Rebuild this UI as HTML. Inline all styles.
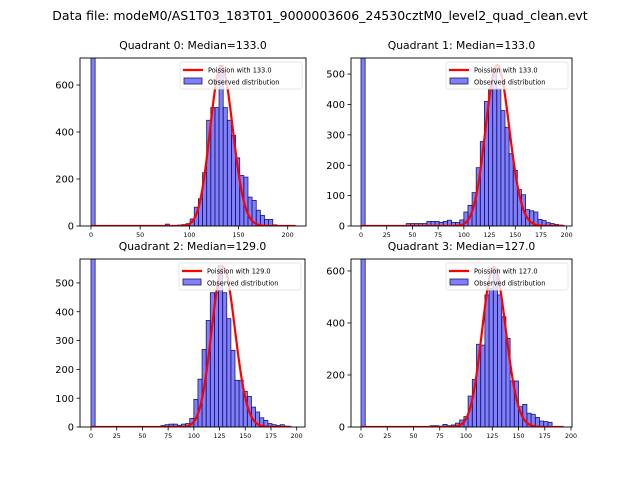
<!DOCTYPE html>
<html><head><meta charset="utf-8"><style>
html,body{margin:0;padding:0;background:#fff;}
svg{display:block;font-family:"DejaVu Sans","Liberation Sans",sans-serif;}
</style></head><body>
<svg id="fig" width="640" height="480" viewBox="0 0 640 480">
<rect width="640" height="480" fill="#fff"/>
<text x="320" y="20" font-size="12.5" text-anchor="middle">Data file: modeM0/AS1T03_183T01_9000003606_24530cztM0_level2_quad_clean.evt</text>
</svg>
<script>
// ---- data ----
const q0Bins = [0, 75.6, 88.2, 92.4, 96.6, 100.8, 105, 109.2, 113.4, 117.6, 121.8, 126, 130.2, 134.4, 138.6, 142.8, 147, 151.2, 155.4, 159.6, 163.8, 168, 172.2, 176.4, 180.6, 184.8];
const q0Counts = [2000, 8, 4, 6, 10, 30, 80, 116, 227, 450, 504, 504, 684, 504, 450, 386, 290, 215, 208, 123, 109, 67, 45, 28, 28, 5];
const q1Bins = [0, 44, 48, 52, 56, 60, 64, 68, 72, 76, 80, 84, 88, 92, 96, 100, 104, 108, 112, 116, 120, 124, 128, 132, 136, 140, 144, 148, 152, 156, 160, 164, 168, 172, 176, 180, 184, 188, 192];
const q1Counts = [2000, 8, 8, 8, 8, 8, 15, 15, 15, 12, 15, 19, 12, 12, 20, 46, 68, 110, 192, 278, 410, 452, 520, 452, 380, 325, 238, 183, 120, 103, 54, 50, 46, 22, 18, 11, 8, 5, 3];
const q2Bins = [0, 68, 72, 76, 80, 84, 88, 92, 96, 100, 104, 108, 112, 116, 120, 124, 128, 132, 136, 140, 144, 148, 152, 156, 160, 164, 168, 172, 176, 180, 184, 188];
const q2Counts = [2000, 5, 8, 10, 10, 6, 10, 12, 30, 96, 166, 269, 370, 466, 466, 560, 466, 376, 266, 162, 162, 124, 106, 69, 52, 32, 23, 12, 8, 5, 8, 3];
const q3Bins = [0, 66, 70, 74, 78, 82, 86, 90, 94, 98, 102, 106, 110, 114, 118, 122, 126, 130, 134, 138, 142, 146, 150, 154, 158, 162, 166, 170, 174, 178];
const q3Counts = [2000, 5, 5, 3, 10, 5, 8, 15, 27, 40, 119, 183, 318, 315, 508, 533, 610, 508, 424, 341, 177, 177, 78, 87, 53, 49, 37, 23, 21, 18];
const medians = [133.0, 133.0, 129.0, 127.0];
const peakHeights = [680, 530, 555, 615];
const curveEnds = [208, 198, 195, 193];
const binWidths = [4.2, 4, 4, 4];
const xTicks0 = [0, 50, 100, 150, 200];
const xTicks1 = [0, 25, 50, 75, 100, 125, 150, 175, 200];
const yTicks0 = [0, 200, 400, 600];
const yTicks1 = [0, 100, 200, 300, 400, 500];
const yTicks3 = [0, 200, 400, 600];

// ---- layout ----
const NS = "http://www.w3.org/2000/svg";
const svg = document.getElementById('fig');
function mk(tag, attrs, parent) {
  const e = document.createElementNS(NS, tag);
  for (const k in attrs) e.setAttribute(k, attrs[k]);
  (parent || svg).appendChild(e);
  return e;
}
const panels = [
  {L:80, R:306, T:58, B:226, x0:91, x200:287.7, ymax:715, bins:q0Bins, counts:q0Counts, xt:xTicks0, yt:yTicks0},
  {L:351, R:572, T:58, B:226, x0:361, x200:566.7, ymax:553, bins:q1Bins, counts:q1Counts, xt:xTicks1, yt:yTicks1},
  {L:80, R:305, T:259, B:427, x0:91, x200:296.7, ymax:583, bins:q2Bins, counts:q2Counts, xt:xTicks1, yt:yTicks1},
  {L:351, R:572, T:259, B:427, x0:361, x200:571, ymax:646, bins:q3Bins, counts:q3Counts, xt:xTicks1, yt:yTicks3}
];
function logFact(k){ let s=0; for(let i=2;i<=k;i++) s+=Math.log(i); return s; }

panels.forEach((p, qi) => {
  const g = mk('g', {});
  
  
  const xs = v => p.x0 + (v) * (p.x200 - p.x0) / 200;
  const ys = v => p.B - v * (p.B - p.T) / p.ymax;
  const cid = 'clip' + qi;
  const cp = mk('clipPath', {id: cid}, g);
  mk('rect', {x: p.L, y: p.T, width: p.R - p.L, height: p.B - p.T}, cp);
  const plot = mk('g', {'clip-path': 'url(#' + cid + ')'}, g);
  p.bins.forEach((b, i) => {
    const x1 = xs(b), x2 = xs(b + binWidths[qi]);
    const y = ys(p.counts[i]);
    const r = mk('rect', {x: x1, y: y, width: x2 - x1, height: p.B - y, fill: 'rgba(0,0,255,0.5)', stroke: '#1a1a60', 'stroke-width': 0.8}, plot);
    
    
  });
  const mu = medians[qi];
  const pk = Math.floor(mu);
  const lpk = -mu + pk * Math.log(mu) - logFact(pk);
  let d = '';
  for (let k = 0; k <= curveEnds[qi]; k++) {
    const lv = -mu + k * Math.log(mu) - logFact(k);
    const v = peakHeights[qi] * Math.exp(lv - lpk);
    d += (k ? 'L' : 'M') + xs(k).toFixed(2) + ' ' + ys(v).toFixed(2);
  }
  const line = mk('path', {d: d, fill: 'none', stroke: '#ff0000', 'stroke-width': 2.2}, plot);
  
  
  const fr = mk('rect', {x: p.L, y: p.T, width: p.R - p.L, height: p.B - p.T, fill: 'none', stroke: '#000', 'stroke-width': 0.9}, g);
  
  
  p.xt.forEach(t => {
    const x = xs(t);
    mk('line', {x1: x, x2: x, y1: p.B, y2: p.B + 3.5, stroke: '#000', 'stroke-width': 0.8}, g);
    const tx = mk('text', {x: x, y: p.B + 11, 'font-size': 6.3, 'text-anchor': 'middle'}, g);
    tx.textContent = t;
    
    
  });
  p.yt.forEach(t => {
    const y = ys(t);
    mk('line', {x1: p.L - 3.5, x2: p.L, y1: y, y2: y, stroke: '#000', 'stroke-width': 0.8}, g);
    const tx = mk('text', {x: p.L - 6, y: y + 3.6, 'font-size': 9.8, 'text-anchor': 'end'}, g);
    tx.textContent = t;
    
    
  });
  const tt = mk('text', {x: (p.L + p.R) / 2, y: p.T - 9, 'font-size': 10.8, 'text-anchor': 'middle'}, g);
  tt.textContent = 'Quadrant ' + qi + ': Median=' + medians[qi].toFixed(1);
  
  
  const lg = mk('g', {}, g);
  
  
  const lx = p.R - 126, ly = p.T + 4;
  mk('rect', {x: lx, y: ly, width: 122, height: 27, rx: 2, fill: 'rgba(255,255,255,0.8)', stroke: '#ddd', 'stroke-width': 0.7}, lg);
  mk('line', {x1: lx + 3, x2: lx + 23, y1: ly + 8, y2: ly + 8, stroke: '#ff0000', 'stroke-width': 2.2}, lg);
  const t1 = mk('text', {x: lx + 28, y: ly + 10.5, 'font-size': 6.6}, lg);
  t1.textContent = 'Poission with ' + medians[qi].toFixed(1);
  
  
  mk('rect', {x: lx + 4, y: ly + 16, width: 18, height: 6, fill: 'rgba(0,0,255,0.5)', stroke: '#1a1a60', 'stroke-width': 0.8}, lg);
  const t2 = mk('text', {x: lx + 28, y: ly + 22.5, 'font-size': 6.6}, lg);
  t2.textContent = 'Observed distribution';
  
  
});
</script>
</body></html>
